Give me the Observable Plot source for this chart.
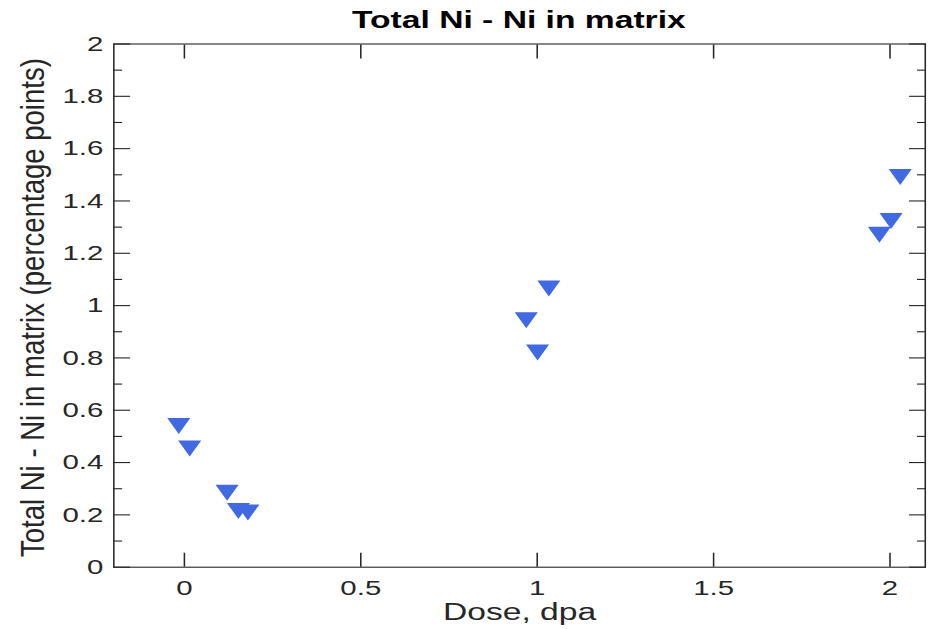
<!DOCTYPE html>
<html>
<head>
<meta charset="utf-8">
<script src="https://cdn.jsdelivr.net/npm/d3@7"></script>
<script src="https://cdn.jsdelivr.net/npm/@observablehq/plot@0.6"></script>
<style>
html, body { margin: 0; padding: 0; background: #fff; }
#wrap { width: 664px; transform: scaleX(1.400602); transform-origin: 0 0;
  font-family: "Liberation Sans", Arial, Helvetica, sans-serif; color: #262626; }
#title { height: 40px; line-height: 39px; font-size: 24px; font-weight: bold; text-align: center;
  color: #000; box-sizing: border-box; padding-left: 80.78px; padding-right: 3.87px; white-space: nowrap; }
</style>
</head>
<body>
<div id="wrap">
  <div id="title">Total Ni - Ni in matrix</div>
  <div id="chart"></div>
</div>
<script>
// Data
const dose  = [-0.016, 0.015, 0.121, 0.153, 0.180, 0.969, 1.001, 1.033, 1.970, 2.003, 2.029];
const niDiff = [0.540, 0.454, 0.285, 0.215, 0.209, 0.944, 0.821, 1.065, 1.271, 1.323, 1.492];

const xDomain = [-0.2, 2.1];
const yDomain = [0, 2];
const xTicks = [0, 0.5, 1, 1.5, 2];
const xTickLabels = ["0", "0.5", "1", "1.5", "2"];
const yTicks = [0, 0.2, 0.4, 0.6, 0.8, 1, 1.2, 1.4, 1.6, 1.8, 2];
const yTickLabels = ["0", "0.2", "0.4", "0.6", "0.8", "1", "1.2", "1.4", "1.6", "1.8", "2"];
const yMinorTicks = [0.1, 0.3, 0.5, 0.7, 0.9, 1.1, 1.3, 1.5, 1.7, 1.9];
const xLabel = "Dose, dpa";
const yLabel = "Total Ni - Ni in matrix (percentage points)";

const rows = dose.map((d, i) => ({dose: d, ni: niDiff[i]}));

const axisColor = "#262626";
const sw = 1.1;
const majY = 12.1, minY = 6.4, majX = 14;

// downward triangle marker
const triDown = {
  draw(ctx, size) {
    const r = Math.sqrt(size / Math.PI);
    ctx.moveTo(-1.03 * r, -r);
    ctx.lineTo(1.03 * r, -r);
    ctx.lineTo(0, r);
    ctx.closePath();
  }
};

const blank = () => "";

const chart = Plot.plot({
  width: 664,
  height: 589,
  marginLeft: 80.78,
  marginRight: 3.87,
  marginTop: 3.5,
  marginBottom: 62.3,
  style: {fontFamily: '"Liberation Sans", Arial, Helvetica, sans-serif', color: axisColor, background: "white", overflow: "visible"},
  x: {domain: xDomain},
  y: {domain: yDomain},
  marks: [
    // inward major/minor ticks on all four sides
    Plot.axisY(yTicks, {anchor: "left", tickSize: majY, dx: majY, tickFormat: blank, label: null, strokeWidth: sw}),
    Plot.axisY(yMinorTicks, {anchor: "left", tickSize: minY, dx: minY, tickFormat: blank, label: null, strokeWidth: sw}),
    Plot.axisY(yTicks, {anchor: "right", tickSize: majY, dx: -majY, tickFormat: blank, label: null, strokeWidth: sw}),
    Plot.axisY(yMinorTicks, {anchor: "right", tickSize: minY, dx: -minY, tickFormat: blank, label: null, strokeWidth: sw}),
    Plot.axisX(xTicks, {anchor: "bottom", tickSize: majX, dy: -majX, tickFormat: blank, label: null, strokeWidth: sw}),
    Plot.axisX(xTicks, {anchor: "top", tickSize: majX, dy: majX, tickFormat: blank, label: null, strokeWidth: sw}),
    // tick labels
    Plot.axisY(yTicks, {anchor: "left", tickSize: 0, tickPadding: 7.5, fontSize: 21, label: null,
      tickFormat: d => yTickLabels[yTicks.indexOf(d)]}),
    Plot.axisX(xTicks, {anchor: "bottom", tickSize: 0, tickPadding: 13, fontSize: 21, label: null,
      tickFormat: d => xTickLabels[xTicks.indexOf(d)]}),
    Plot.frame({stroke: axisColor, strokeWidth: sw}),
    // axis titles
    Plot.text([xLabel], {text: d => d, frameAnchor: "bottom", dy: 45.6, fontSize: 24, lineAnchor: "middle", textAnchor: "middle", fill: axisColor}),
    Plot.text([yLabel], {text: d => d, frameAnchor: "left", dx: -57.6, dy: 2, rotate: -90, fontSize: 24, lineAnchor: "middle", textAnchor: "middle", fill: axisColor}),
    // data
    Plot.dot(rows, {x: "dose", y: "ni", symbol: triDown, r: 8, fill: "#4169E1", stroke: "none"})
  ]
});

document.getElementById("chart").appendChild(chart);

// stretch the y-axis title along its length to match the reference
d3.select(chart).selectAll("text").filter(function() { return this.textContent === yLabel; })
  .attr("textLength", 499).attr("lengthAdjust", "spacingAndGlyphs");
</script>
</body>
</html>
